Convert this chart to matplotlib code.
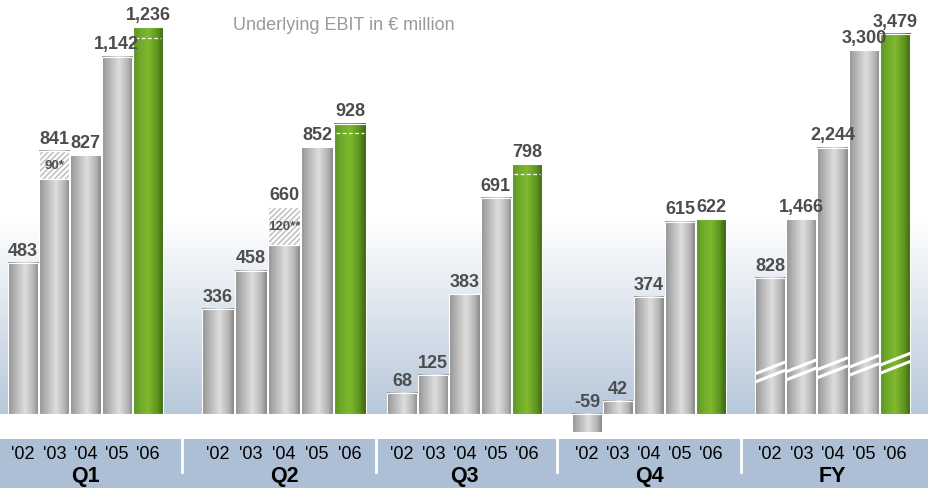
import numpy as np
import matplotlib
matplotlib.use("Agg")
import matplotlib.pyplot as plt
from matplotlib.colors import LinearSegmentedColormap, to_rgb
from matplotlib.patches import Rectangle

plt.rcParams['font.family'] = ['Liberation Sans', 'DejaVu Sans']
plt.rcParams['hatch.linewidth'] = 1.2

# data (EBIT in EUR million)
groups = ['Q1', 'Q2', 'Q3', 'Q4', 'FY']
years = ["'02", "'03", "'04", "'05", "'06"]
q1 = [483, 841, 827, 1142, 1236]
q2 = [336, 458, 660, 852, 928]
q3 = [68, 125, 383, 691, 798]
q4 = [-59, 42, 374, 615, 622]
fy = [828, 1466, 2244, 3300, 3479]
# hatched one-off parts: (group, year index, amount, label)
oneoffs = [(0, 1, 90, '90*'), (1, 2, 120, '120**')]
# dashed marks inside the '06 bars
dash_levels = [1200, 898, 768]

values = [q1, q2, q3, q4, fy]

# pixel based layout
W, H = 929, 489
px = 0.313           # pixels per EUR million
base_px = 74         # baseline above bottom
group_x = [8, 202, 387, 572, 755]
group_step = [31.25, 33, 31.25, 31, 31.25]
seps = [182.5, 376, 557, 741]

fig = plt.figure(figsize=(W / 100, H / 100), dpi=100)
ax = fig.add_axes([0, 0, 1, 1])
ylo, yhi = -base_px / px, (H - base_px) / px

def fy_scale(v):
    # FY bars are on a broken axis
    return 60 / px + 0.092 / px * v

grey = LinearSegmentedColormap.from_list('g', [(0, '#8f8f8f'), (0.12, '#a6a6a6'), (0.55, '#dedede'),
                                               (0.85, '#b3b3b3'), (1, '#868686')])
green = LinearSegmentedColormap.from_list('gr', [(0, '#5a9222'), (0.2, '#6ea82a'), (0.5, '#7eb92d'),
                                                 (0.8, '#5c941e'), (1, '#3b6611')])
hgrad = np.linspace(0, 1, 64).reshape(1, -1)

# background gradient
top_c = np.array(to_rgb('#ffffff'))
bot_c = np.array(to_rgb('#b7c8da'))
t = np.clip(np.linspace(1, 0, 200) / 0.47, 0, 1).reshape(-1, 1)
bg = (bot_c + (top_c - bot_c) * t[..., None]).reshape(200, 1, 3)
ax.imshow(bg, extent=[0, W, 0, yhi], aspect='auto', zorder=0, interpolation='bilinear')

for g, vals in enumerate(values):
    x0g = group_x[g]
    st = group_step[g]
    bw = st - 1.0
    for i, v in enumerate(vals):
        xl = x0g + i * st
        h = fy_scale(v) if g == 4 else v
        cmap = green if i == 4 else grey
        ax.imshow(hgrad, extent=[xl, xl + bw, min(0, h), max(0, h)], cmap=cmap,
                  aspect='auto', zorder=2, interpolation='bilinear')
        ax.add_patch(Rectangle((xl, min(0, h)), bw, abs(h), fill=False, edgecolor='white',
                               linewidth=0.8, zorder=3))
        top = max(0, h)
        for (og, oi, amt, lab) in oneoffs:
            if og == g and oi == i:
                ax.add_patch(Rectangle((xl, h - amt), bw, amt, facecolor='white', hatch='//////',
                                       edgecolor='#c2c2c2', linewidth=0, zorder=3))
                ax.add_patch(Rectangle((xl, h - amt), bw, amt, fill=False, edgecolor='white',
                                       linewidth=0.8, zorder=3))
                ax.text(xl + bw / 2, h - amt / 2, lab, ha='center', va='center', fontsize=9.5,
                        fontweight='bold', color='#505050', zorder=4)
        ax.annotate(f'{v:,}', (xl + bw / 2, top), xytext=(0, 3), textcoords='offset points',
                    ha='center', va='bottom', fontsize=13, fontweight='bold', color='#4d4d4d',
                    zorder=5)
        if i == 4 and g < len(dash_levels):
            ax.plot([xl + 2, xl + bw - 2], [dash_levels[g]] * 2, color='white', lw=0.9,
                    ls=(0, (3, 2)), zorder=4)
        if g == 4:
            yb = 128 + i * 7
            for d in (0, 26):
                ax.plot([xl, xl + bw], [yb - d, yb - d + 38], color='white', lw=2.2,
                        zorder=4, solid_capstyle='butt')
        ax.text(xl + bw / 2, (H - 455) / H, years[i], transform=ax.get_xaxis_transform(),
                ha='center', va='center', fontsize=13, color='black', zorder=6)
    ax.text(x0g + 2 * st + bw / 2, (H - 477) / H, groups[g], transform=ax.get_xaxis_transform(),
            ha='center', va='center', fontsize=15.5, fontweight='bold', color='black', zorder=6)

for xs in seps:
    ax.plot([xs, xs], [(H - 473) / H, (H - 440) / H], transform=ax.get_xaxis_transform(),
            color='white', lw=2, zorder=6)

# bottom band
ax.add_patch(Rectangle((0, 0), 1, 49 / H, transform=ax.transAxes, facecolor='#adbfd4',
                       edgecolor='none', zorder=1))

ax.text(344, (H - 25) / H, 'Underlying EBIT in € million', transform=ax.get_xaxis_transform(),
        ha='center', va='center', fontsize=13, color='#9a9a9a')

ax.set_xlim(0, W)
ax.set_ylim(ylo, yhi)
ax.axis('off')
fig.savefig('out.png', dpi=100)
